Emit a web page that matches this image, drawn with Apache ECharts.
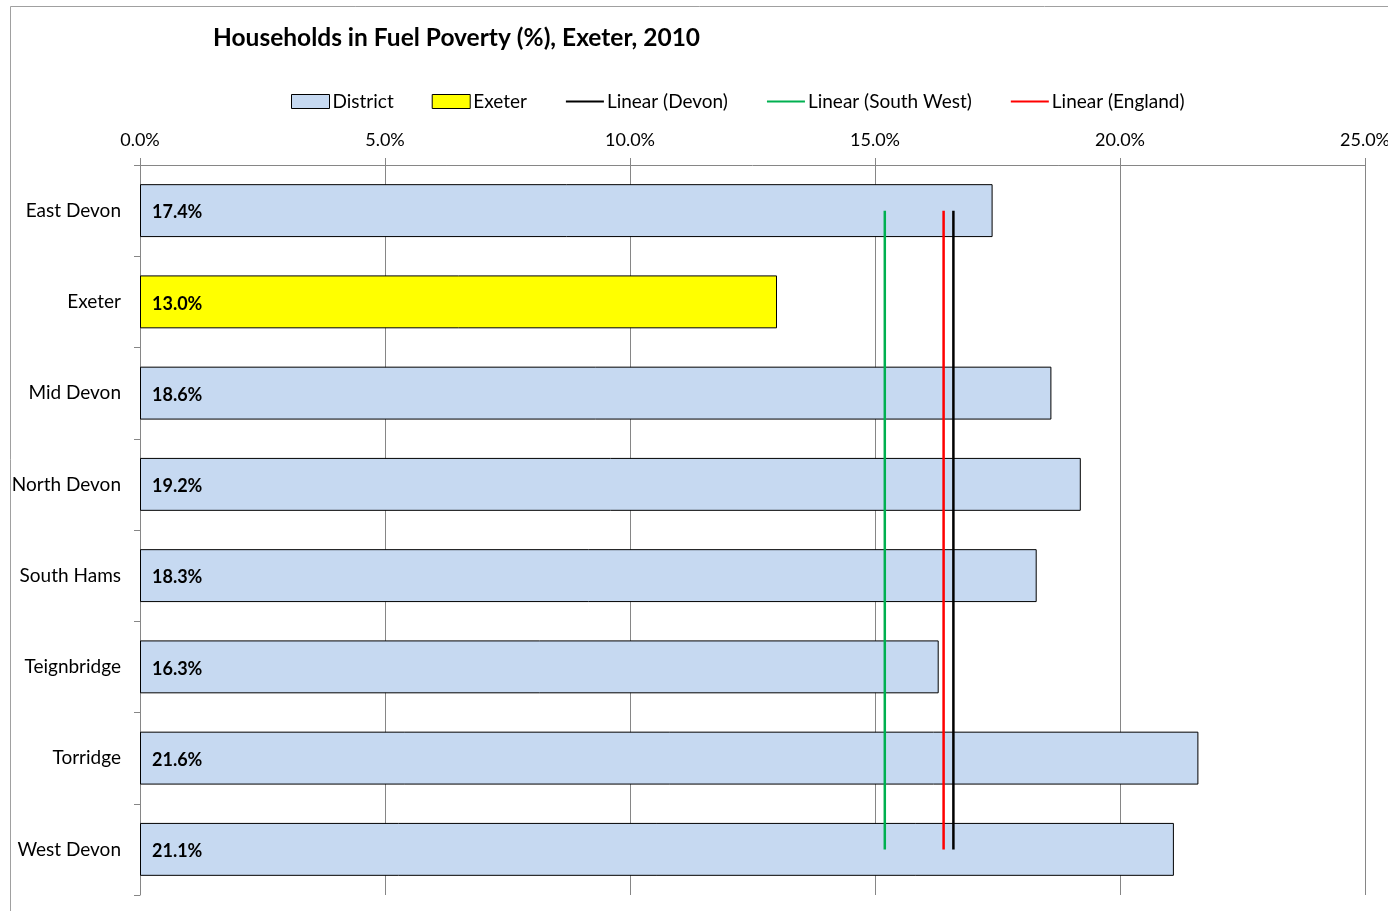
<!DOCTYPE html>
<html>
<head>
<meta charset="utf-8">
<script src="https://cdn.jsdelivr.net/npm/echarts@6/dist/echarts.min.js"></script>
<style>
html,body{margin:0;padding:0;background:#fff;}
#chart{width:1388px;height:911px;}
</style>
</head>
<body>
<div id="chart"></div>
<script>
const categories = ['East Devon','Exeter','Mid Devon','North Devon','South Hams','Teignbridge','Torridge','West Devon'];
const districtValues = [17.4, null, 18.6, 19.2, 18.3, 16.3, 21.6, 21.1];
const exeterValues = [null, 13.0, null, null, null, null, null, null];
const devonAvg = 16.6;
const southWestAvg = 15.2;
const englandAvg = 16.4;
const xTicks = [0, 5, 10, 15, 20, 25];

const FONT = 'Lato, "Open Sans", sans-serif';
const chart = echarts.init(document.getElementById('chart'));

function lineData(v){ return categories.map(c => [v, c]); }

const labelOpt = {
  show: true, position: 'insideLeft', distance: 12, offset: [0, 2],
  formatter: p => (Array.isArray(p.value) ? p.value[0] : p.value).toFixed(1) + '%',
  fontFamily: FONT, fontWeight: 'bold', fontSize: 18, color: '#000'
};

chart.setOption({
  animation: false,
  backgroundColor: '#fff',
  title: {
    text: 'Households in Fuel Poverty (%), Exeter, 2010',
    left: 208, top: 21,
    textStyle: { fontFamily: FONT, fontWeight: 'bold', fontSize: 24.5, color: '#000' }
  },
  legend: {
    left: 291, top: 92, padding: 0,
    itemWidth: 38, itemHeight: 14, itemGap: 38,
    textStyle: { fontFamily: FONT, fontSize: 19, color: '#000', padding: [0,0,0,-2] },
    data: [
      { name: 'District', icon: 'rect', itemStyle: { color: '#C6D9F1', borderColor: '#000', borderWidth: 1 } },
      { name: 'Exeter', icon: 'rect', itemStyle: { color: '#FFFF00', borderColor: '#000', borderWidth: 1 } },
      { name: 'Linear (Devon)', itemStyle: { opacity: 0 } },
      { name: 'Linear (South West)', itemStyle: { opacity: 0 } },
      { name: 'Linear (England)', itemStyle: { opacity: 0 } }
    ]
  },
  grid: { left: 140, right: 23, top: 165, bottom: 16, containLabel: false, outerBoundsMode: 'none' },
  xAxis: {
    type: 'value', position: 'top', min: 0, max: 25, interval: 5,
    axisLine: { show: true, lineStyle: { color: '#868686', width: 1 } },
    axisTick: { show: true, length: 7, lineStyle: { color: '#868686' } },
    splitLine: { show: true, lineStyle: { color: '#868686', width: 1 } },
    axisLabel: {
      fontFamily: FONT, fontSize: 18, color: '#000', margin: 16,
      formatter: v => xTicks.includes(v) ? v.toFixed(1) + '%' : ''
    }
  },
  yAxis: {
    type: 'category', data: categories, inverse: true,
    axisLine: { show: true, lineStyle: { color: '#868686', width: 1 } },
    axisTick: { show: true, length: 6, alignWithLabel: false, lineStyle: { color: '#868686' } },
    axisLabel: { fontFamily: FONT, fontSize: 19, color: '#000', margin: 19 },
    splitLine: { show: false }
  },
  series: [
    {
      name: 'District', type: 'bar', data: districtValues,
      barWidth: '58%', barGap: '-100%',
      itemStyle: { color: '#C6D9F1', borderColor: '#000', borderWidth: 1 },
      label: labelOpt, z: 2
    },
    {
      name: 'Exeter', type: 'bar', data: exeterValues,
      barWidth: '58%', barGap: '-100%',
      itemStyle: { color: '#FFFF00', borderColor: '#000', borderWidth: 1 },
      label: labelOpt, z: 2
    },
    {
      name: 'Linear (Devon)', type: 'line', data: lineData(devonAvg),
      symbol: 'none', lineStyle: { color: '#000', width: 2.5 }, itemStyle: { color: '#000' }, z: 5
    },
    {
      name: 'Linear (South West)', type: 'line', data: lineData(southWestAvg),
      symbol: 'none', lineStyle: { color: '#00B050', width: 2.5 }, itemStyle: { color: '#00B050' }, z: 5
    },
    {
      name: 'Linear (England)', type: 'line', data: lineData(englandAvg),
      symbol: 'none', lineStyle: { color: '#FF0000', width: 2.5 }, itemStyle: { color: '#FF0000' }, z: 5
    }
  ],
  graphic: [
    { type: 'rect', shape: { x: 10.5, y: 6.5, width: 1400, height: 1000 },
      style: { fill: null, stroke: '#A0A0A0', lineWidth: 1 }, silent: true, z: -1 }
  ]
});
</script>
</body>
</html>
